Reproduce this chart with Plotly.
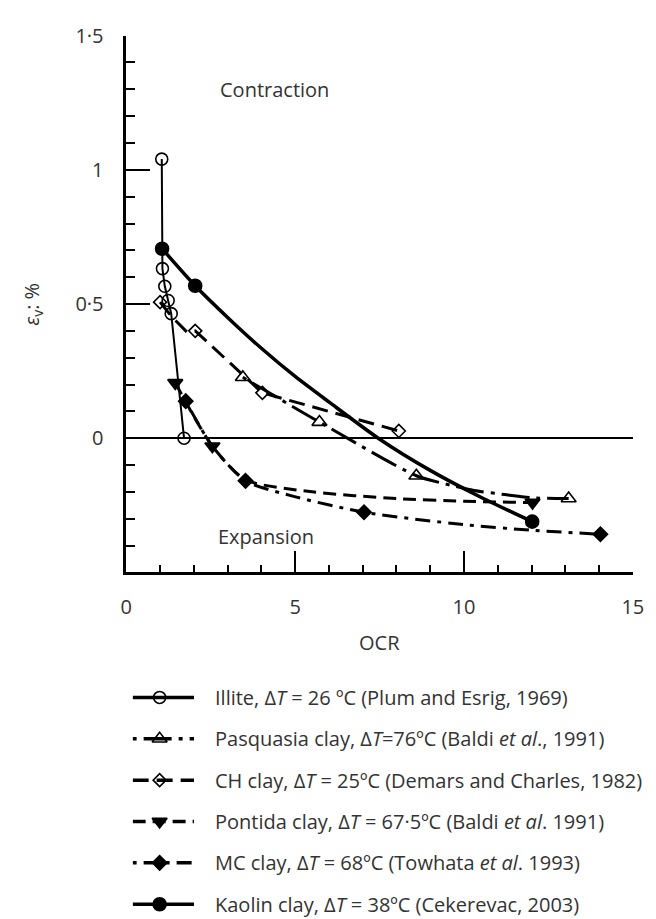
import plotly.graph_objects as go

W, H = 656, 919

# ---------------- data ----------------
illite_ocr = [1.05, 1.07, 1.14, 1.24, 1.33, 1.71]
illite_ev = [1.04, 0.632, 0.566, 0.513, 0.464, 0.0]

pasq_ocr = [3.45, 5.72, 8.59, 13.1]
pasq_ev = [0.227, 0.06, -0.14, -0.225]
pasq_curve_ocr = [3.45, 5.72, 8.59, 9.6, 10.3, 11.2, 12.0, 13.1]
pasq_curve_ev = [0.227, 0.06, -0.14, -0.175, -0.195, -0.21, -0.222, -0.225]

ch_ocr = [1.0, 2.04, 4.03, 8.07]
ch_ev = [0.507, 0.40, 0.169, 0.027]
ch_curve_ocr = [1.0, 1.33, 1.8, 2.04, 4.03, 8.07]
ch_curve_ev = [0.507, 0.455, 0.395, 0.40, 0.169, 0.027]

pont_ocr = [1.45, 2.55, 12.03]
pont_ev = [0.206, -0.03, -0.24]
pont_curve_ocr = [1.45, 2.55, 3.53, 5.5, 8.0, 10.0, 12.03]
pont_curve_ev = [0.206, -0.03, -0.155, -0.2, -0.225, -0.235, -0.24]

mc_ocr = [1.76, 3.53, 7.04, 14.04]
mc_ev = [0.138, -0.159, -0.276, -0.358]
mc_curve_ocr = [1.76, 2.55, 3.53, 4.9, 7.04, 10.0, 12.0, 14.04]
mc_curve_ev = [0.138, -0.03, -0.159, -0.215, -0.276, -0.322, -0.343, -0.358]

kaolin_ocr = [1.06, 2.04, 12.02]
kaolin_ev = [0.706, 0.568, -0.311]
kaolin_curve_ocr = [1.06, 2.04, 3.0, 4.0, 5.0, 6.0, 7.46, 9.0, 10.5, 12.02]
kaolin_curve_ev = [0.706, 0.568, 0.45, 0.335, 0.23, 0.135, 0.0, -0.12, -0.22, -0.311]

x_tickvals = [0, 5, 10, 15]
x_ticktext = ["0", "5", "10", "15"]
y_tickvals = [0, 0.5, 1, 1.5]
y_ticktext = ["0", "0·5", "1", "1·5"]

legend_labels = [
    "Illite, Δ<i>T</i> = 26 ºC (Plum and Esrig, 1969)",
    "Pasquasia clay, Δ<i>T</i>=76ºC (Baldi <i>et al</i>., 1991)",
    "CH clay, Δ<i>T</i> = 25ºC (Demars and Charles, 1982)",
    "Pontida clay, Δ<i>T</i> = 67·5ºC (Baldi <i>et al</i>. 1991)",
    "MC clay, Δ<i>T</i> = 68ºC (Towhata <i>et al</i>. 1993)",
    "Kaolin clay, Δ<i>T</i> = 38ºC (Cekerevac, 2003)",
]

# ---------------- styles ----------------
TXT = "#333333"
FONT = "Open Sans"
series = [
    # curve x, curve y, marker x, marker y, dash, width, symbol, size, spline
    (illite_ocr, illite_ev, illite_ocr, illite_ev, "solid", 2, "circle-open", 12, False),
    (pasq_curve_ocr, pasq_curve_ev, pasq_ocr, pasq_ev, "4px,7px,28px,7px", 3, "triangle-up-open", 13, True),
    (ch_curve_ocr, ch_curve_ev, ch_ocr, ch_ev, "16px,8px", 3, "diamond-open", 10, False),
    (pont_curve_ocr, pont_curve_ev, pont_ocr, pont_ev, "13px,7px", 3, "triangle-down", 13, True),
    (mc_curve_ocr, mc_curve_ev, mc_ocr, mc_ev, "4px,7px,15px,7px", 3, "diamond", 11, True),
    (kaolin_curve_ocr, kaolin_curve_ev, kaolin_ocr, kaolin_ev, "solid", 3.5, "circle", 13, True),
]

fig = go.Figure()

for cx, cy, mx, my, dash, lw, sym, ms, spl in series:
    fig.add_trace(go.Scatter(
        x=cx, y=cy, mode="lines", xaxis="x", yaxis="y",
        line=dict(color="black", width=lw, dash=dash,
                  shape="spline" if spl else "linear", smoothing=0.7),
        showlegend=False, hoverinfo="skip"))
for cx, cy, mx, my, dash, lw, sym, ms, spl in series:
    fig.add_trace(go.Scatter(
        x=mx, y=my, mode="markers", xaxis="x", yaxis="y",
        marker=dict(symbol=sym, size=ms, color="black",
                    line=dict(color="black", width=1.6)),
        showlegend=False))

# ---------------- custom legend (own small axes) ----------------
KEY_L, KEY_R = 130, 193          # key sample spans these pixels
key_unit = KEY_R - KEY_L
ROW0, ROW_STEP = 694, 42         # pixel centre of first row, row spacing
for i, (cx, cy, mx, my, dash, lw, sym, ms, spl) in enumerate(series):
    fig.add_trace(go.Scatter(
        x=[0, 1], y=[i, i], mode="lines", xaxis="x2", yaxis="y2",
        line=dict(color="black", width=3.5, dash=dash),
        showlegend=False, hoverinfo="skip"))
    fig.add_trace(go.Scatter(
        x=[0.44], y=[i], mode="markers", xaxis="x2", yaxis="y2",
        marker=dict(symbol=sym, size=ms, color="black",
                    line=dict(color="black", width=1.6)),
        showlegend=False, hoverinfo="skip"))
    fig.add_annotation(x=(212 - KEY_L) / key_unit, y=i, xref="x2", yref="y2",
                       text=legend_labels[i],
                       showarrow=False, xanchor="left", yanchor="middle",
                       font=dict(family=FONT, size=20, color=TXT))

# ---------------- layout ----------------
px_left, px_right = 123.5, 643.5
px_top, px_bottom = 22, 567
leg_top_px = ROW0 - 0.5 * ROW_STEP
leg_bottom_row = (H - ROW0) / ROW_STEP

fig.update_layout(
    width=W, height=H,
    margin=dict(l=0, r=0, t=0, b=0),
    paper_bgcolor="white", plot_bgcolor="white",
    font=dict(family=FONT, size=20, color=TXT),
    xaxis=dict(
        domain=[px_left / W, px_right / W], range=[0, 15], anchor="y",
        showgrid=False, zeroline=False,
        showline=True, linecolor="black", linewidth=2.5,
        ticks="inside", tickvals=x_tickvals, ticktext=x_ticktext,
        ticklen=22, tickwidth=2, tickcolor="black",
        ticklabelstandoff=15,
        minor=dict(dtick=1, tick0=0, ticks="inside", ticklen=8,
                   tickwidth=2, tickcolor="black", showgrid=False),
        tickfont=dict(family=FONT, size=20, color=TXT),
    ),
    yaxis=dict(
        domain=[1 - px_bottom / H, 1 - px_top / H], range=[-0.5, 1.5], anchor="x",
        showgrid=False, zeroline=True, zerolinecolor="black", zerolinewidth=1.5,
        showline=True, linecolor="black", linewidth=2.5,
        ticks="inside", tickvals=y_tickvals, ticktext=y_ticktext,
        ticklen=24, tickwidth=2, tickcolor="black",
        ticklabelstandoff=16,
        minor=dict(dtick=0.1, tick0=0, ticks="inside", ticklen=9,
                   tickwidth=2, tickcolor="black", showgrid=False),
        tickfont=dict(family=FONT, size=20, color=TXT),
    ),
    xaxis2=dict(domain=[KEY_L / W, 1], range=[0, (W - KEY_L) / key_unit],
                anchor="y2", visible=False),
    yaxis2=dict(domain=[0, 1 - leg_top_px / H], range=[leg_bottom_row, -0.5],
                anchor="x2", visible=False),
)

# annotations: region labels and axis titles
fig.add_annotation(x=2.73, y=1.30, xref="x", yref="y", text="Contraction",
                   showarrow=False, xanchor="left", yanchor="middle",
                   font=dict(family=FONT, size=20, color=TXT))
fig.add_annotation(x=2.67, y=-0.366, xref="x", yref="y", text="Expansion",
                   showarrow=False, xanchor="left", yanchor="middle",
                   font=dict(family=FONT, size=20, color=TXT))
fig.add_annotation(x=(px_left + px_right) / 2 / W, y=1 - 638 / H, xref="paper", yref="paper",
                   text="OCR", showarrow=False, xanchor="center", yanchor="middle",
                   font=dict(family=FONT, size=20, color=TXT))
fig.add_annotation(x=27 / W, y=1 - 295 / H, xref="paper", yref="paper",
                   text="<i>ε</i><sub>v</sub>: %", textangle=-90, showarrow=False,
                   xanchor="center", yanchor="middle",
                   font=dict(family=FONT, size=20, color=TXT))

fig.write_html("out.html")
